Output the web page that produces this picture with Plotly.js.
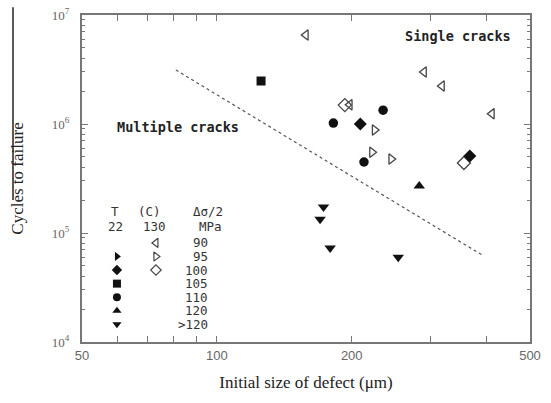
<!DOCTYPE html>
<html><head><meta charset="utf-8">
<script src="https://cdn.plot.ly/plotly-3.0.1.min.js"></script>
<style>html,body{margin:0;padding:0;background:#fff}#chart{width:551px;height:403px}</style>
</head><body><div id="chart"></div>
<script>
// ---- data ----
// 130 C series (open symbols)
const s90_130_x = [158, 290, 318, 411, 198];
const s90_130_y = [6.56e6, 3.0e6, 2.23e6, 1.24e6, 1.5e6];
const s95_130_x = [225, 222, 245];
const s95_130_y = [8.8e5, 5.5e5, 4.77e5];
const s100_130_x = [193, 356];
const s100_130_y = [1.49e6, 4.39e5];
// 22 C series (filled symbols)
const s100_22_x = [209, 367];
const s100_22_y = [1.0e6, 5.09e5];
const s105_22_x = [125.5];
const s105_22_y = [2.48e6];
const s110_22_x = [235, 182, 213];
const s110_22_y = [1.34e6, 1.02e6, 4.48e5];
const s120_22_x = [283];
const s120_22_y = [2.7e5];
const sgt120_22_x = [173, 170, 179, 254];
const sgt120_22_y = [1.73e5, 1.34e5, 7.3e4, 6.0e4];
// dotted boundary line
const lineX = [81, 391];
const lineY = [3.13e6, 6.28e4];
// key table
const keyStress = ['90', '95', '100', '105', '110', '120', '>120'];
const keySym22  = [null, 'triangle-right', 'diamond', 'square', 'circle', 'triangle-up', 'triangle-down'];
const keySym130 = ['triangle-left-open', 'triangle-right-open', 'diamond-open', null, null, null, null];
const xTickVals = [50, 100, 200, 500];
const xTickText = ['50', '100', '200', '500'];
const yTickVals = [1e4, 1e5, 1e6, 1e7];
const yTickText = ['10<sup>4</sup>', '10<sup>5</sup>', '10<sup>6</sup>', '10<sup>7</sup>'];

// ---- styling ----
const ink = '#111';
const openInk = '#444';
function pts(x, y, sym, size, color) {
  return {x: x, y: y, type: 'scatter', mode: 'markers', showlegend: false, hoverinfo: 'skip',
    marker: {symbol: sym, size: size, color: color, line: {width: sym.indexOf('open') >= 0 ? 1.3 : 0, color: color}}};
}
const traces = [
  {x: lineX, y: lineY, type: 'scatter', mode: 'lines', showlegend: false, hoverinfo: 'skip',
   line: {color: '#555', width: 1.2, dash: 'dot'}},
  pts(s90_130_x, s90_130_y, 'triangle-left-open', 9, openInk),
  pts(s95_130_x, s95_130_y, 'triangle-right-open', 9, openInk),
  pts(s100_130_x, s100_130_y, 'diamond-open', 10, openInk),
  pts(s100_22_x, s100_22_y, 'diamond', 10, ink),
  pts(s105_22_x, s105_22_y, 'square', 9, ink),
  pts(s110_22_x, s110_22_y, 'circle', 9.5, ink),
  pts(s120_22_x, s120_22_y, 'triangle-up', 10, ink),
  pts(sgt120_22_x, sgt120_22_y, 'triangle-down', 10, ink)
];

// key markers on an overlay axis pair (0..1 paper-like)
const rowTop = 0.303, rowStep = 0.0415, col1 = 0.078, col2 = 0.165, colVal = 0.283;
const k1x = [], k1y = [], k1s = [], k2x = [], k2y = [], k2s = [];
keyStress.forEach((v, i) => {
  const yy = rowTop - i * rowStep;
  if (keySym22[i]) { k1x.push(col1); k1y.push(yy); k1s.push(keySym22[i]); }
  if (keySym130[i]) { k2x.push(col2); k2y.push(yy); k2s.push(keySym130[i]); }
});
traces.push({x: k1x, y: k1y, xaxis: 'x2', yaxis: 'y2', type: 'scatter', mode: 'markers', showlegend: false, hoverinfo: 'skip',
  marker: {symbol: k1s, size: 8, color: ink}});
traces.push({x: k2x, y: k2y, xaxis: 'x2', yaxis: 'y2', type: 'scatter', mode: 'markers', showlegend: false, hoverinfo: 'skip',
  marker: {symbol: k2s, size: 8, color: openInk, line: {width: 1.2, color: openInk}}});

const mono = {family: 'DejaVu Sans Mono', size: 12.5, color: '#333'};
function note(text, x, y, font, xanchor) {
  return {text: text, x: x, y: y, xref: 'paper', yref: 'paper', showarrow: false, borderpad: 0,
          xanchor: xanchor || 'center', yanchor: 'middle', font: font};
}
const big = {family: 'DejaVu Sans Mono', size: 13.5, color: '#222'};
const annotations = [
  note('<b>Single cracks</b>', 0.839, 0.936, big),
  note('<b>Multiple cracks</b>', 0.214, 0.657, big),
  note('T', 0.074, 0.3976, mono),
  note('(C)', 0.150, 0.3976, mono),
  note('Δσ/2', 0.281, 0.3976, mono),
  note('22', 0.074, 0.3547, mono),
  note('130', 0.161, 0.3547, mono),
  note('MPa', 0.286, 0.3547, mono)
];
keyStress.forEach((v, i) => {
  annotations.push(note(v.replace('>', '&gt;'), colVal, rowTop - i * rowStep, mono, 'right'));
});

const axisCol = '#777';
const layout = {
  width: 551, height: 403,
  margin: {l: 82, r: 21, t: 15, b: 61},
  paper_bgcolor: '#fff', plot_bgcolor: '#fff',
  showlegend: false,
  xaxis: {
    type: 'log', range: [Math.log10(50), Math.log10(500)],
    tickmode: 'array', tickvals: xTickVals, ticktext: xTickText,
    ticks: 'inside', ticklen: 6, tickwidth: 1, tickcolor: axisCol,
    minor: {tickmode: 'array', tickvals: [60, 70, 80, 90, 300, 400], ticks: 'inside', ticklen: 6, tickcolor: axisCol, showgrid: false},
    showline: true, linecolor: axisCol, linewidth: 2, mirror: 'allticks',
    showgrid: false, zeroline: false,
    tickfont: {family: 'Liberation Sans', size: 13, color: '#666'},
    title: {text: 'Initial size of defect (μm)', font: {family: 'Liberation Serif', size: 17, color: '#222'}, standoff: 15}
  },
  yaxis: {
    type: 'log', range: [4, 7],
    tickmode: 'array', tickvals: yTickVals, ticktext: yTickText,
    ticks: 'inside', ticklen: 6, tickwidth: 1, tickcolor: axisCol,
    minor: {tickmode: 'array', tickvals: [2e4,3e4,4e4,5e4,6e4,7e4,8e4,9e4,2e5,3e5,4e5,5e5,6e5,7e5,8e5,9e5,2e6,3e6,4e6,5e6,6e6,7e6,8e6,9e6],
            ticks: 'inside', ticklen: 3, tickcolor: axisCol, showgrid: false},
    showline: true, linecolor: axisCol, linewidth: 2, mirror: 'allticks',
    showgrid: false, zeroline: false, ticklabelstandoff: 8,
    tickfont: {family: 'Liberation Serif', size: 13, color: '#666'},
    title: {text: 'Cycles to failure', font: {family: 'Liberation Serif', size: 17, color: '#222'}, standoff: 24}
  },
  xaxis2: {domain: [0, 1], range: [0, 1], overlaying: 'x', visible: false, fixedrange: true},
  yaxis2: {domain: [0, 1], range: [0, 1], overlaying: 'y', visible: false, fixedrange: true},
  annotations: annotations,
  shapes: [{type: 'line', xref: 'paper', yref: 'paper', x0: -0.154, x1: -0.154, y0: 0.434, y1: 1.024,
            line: {color: '#222', width: 1.5}}]
};
Plotly.newPlot('chart', traces, layout, {staticPlot: true, displayModeBar: false});
</script></body></html>
